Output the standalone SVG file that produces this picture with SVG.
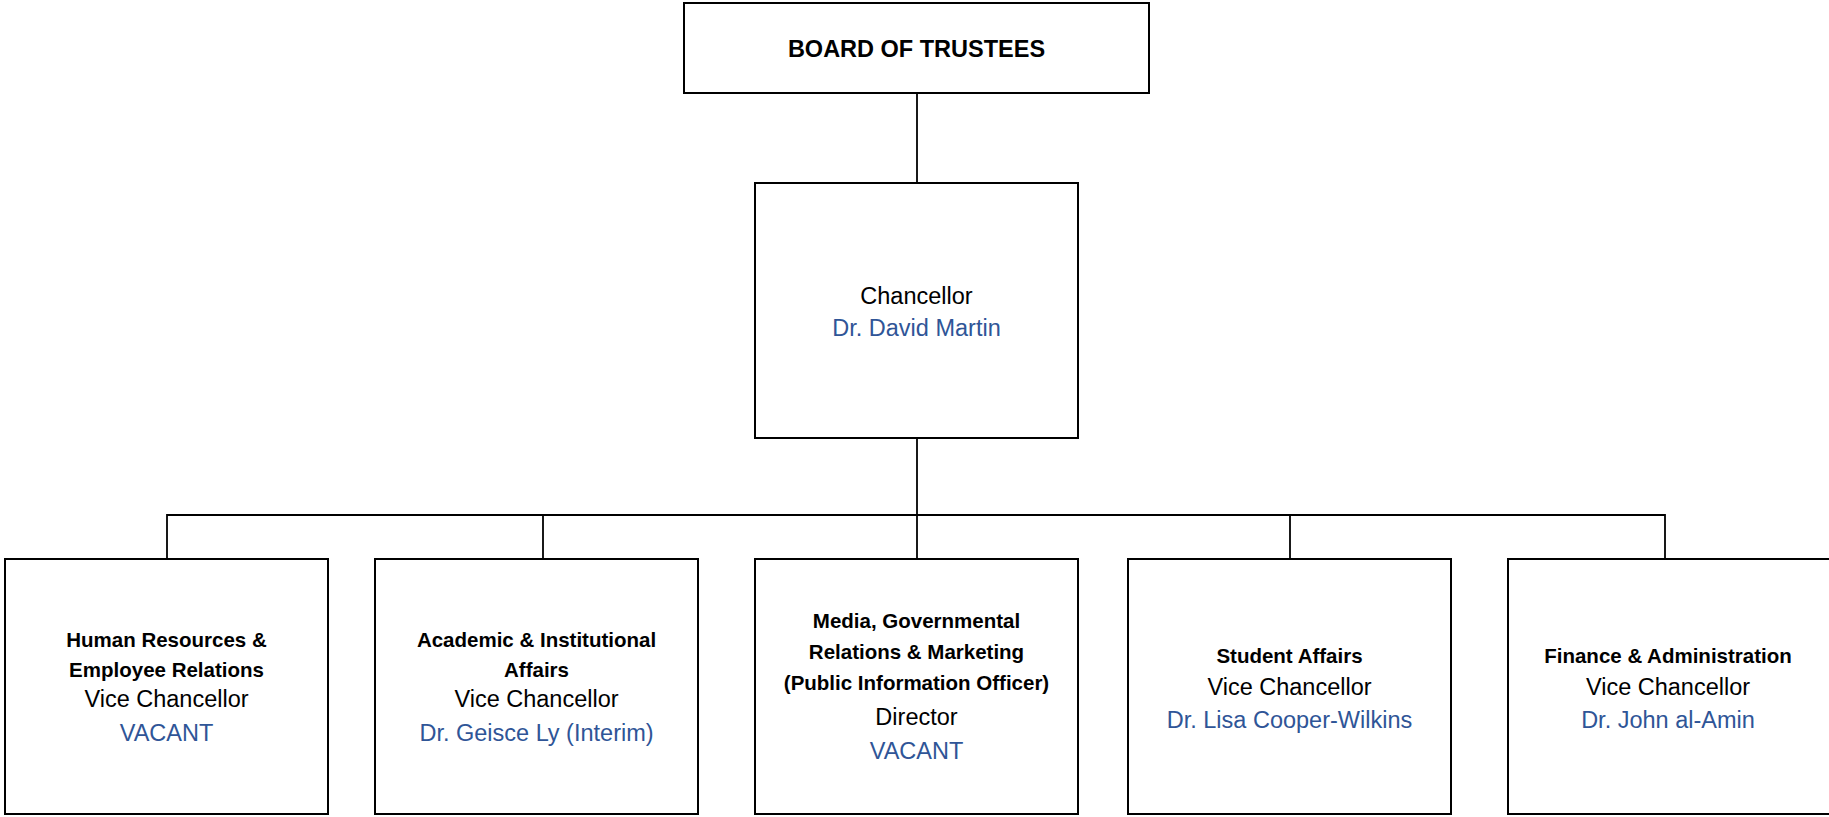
<svg xmlns="http://www.w3.org/2000/svg" width="1829" height="817" viewBox="0 0 1829 817">
<style>
.box{fill:#fff;stroke:#000;stroke-width:2}
.ln{fill:none;stroke:#000;stroke-width:1.8}
text{font-family:"Liberation Sans",Arial,sans-serif;text-anchor:middle}
.b{font-weight:bold;font-size:20.5px;fill:#000}
.r{font-size:23.5px;fill:#000}
.n{font-size:23.5px;fill:#2F5597}
.t{font-weight:bold;font-size:23.5px;fill:#000}
</style>
<rect width="1829" height="817" fill="#fff"/>
<g id="connectors">
<line class="ln" x1="917" y1="93" x2="917" y2="183"/>
<line class="ln" x1="917" y1="438" x2="917" y2="515"/>
<polyline class="ln" points="167,559 167,515 1665,515 1665,559"/>
<line class="ln" x1="543" y1="515" x2="543" y2="559"/>
<line class="ln" x1="917" y1="515" x2="917" y2="559"/>
<line class="ln" x1="1290" y1="515" x2="1290" y2="559"/>
</g>
<g id="board">
<rect class="box" x="684" y="3" width="465" height="90"/>
<text class="t" x="916.5" y="57">BOARD OF TRUSTEES</text>
</g>
<g id="chancellor">
<rect class="box" x="755" y="183" width="323" height="255"/>
<text class="r" x="916.5" y="304">Chancellor</text>
<text class="n" x="916.5" y="336">Dr. David Martin</text>
</g>
<g id="hr">
<rect class="box" x="5" y="559" width="323" height="255"/>
<text class="b" x="166.5" y="647">Human Resources &amp;</text>
<text class="b" x="166.5" y="677">Employee Relations</text>
<text class="r" x="166.5" y="707">Vice Chancellor</text>
<text class="n" x="166.5" y="741">VACANT</text>
</g>
<g id="academic">
<rect class="box" x="375" y="559" width="323" height="255"/>
<text class="b" x="536.5" y="647">Academic &amp; Institutional</text>
<text class="b" x="536.5" y="677">Affairs</text>
<text class="r" x="536.5" y="707">Vice Chancellor</text>
<text class="n" x="536.5" y="741">Dr. Geisce Ly (Interim)</text>
</g>
<g id="media">
<rect class="box" x="755" y="559" width="323" height="255"/>
<text class="b" x="916.5" y="628">Media, Governmental</text>
<text class="b" x="916.5" y="659">Relations &amp; Marketing</text>
<text class="b" x="916.5" y="690">(Public Information Officer)</text>
<text class="r" x="916.5" y="725">Director</text>
<text class="n" x="916.5" y="759">VACANT</text>
</g>
<g id="student">
<rect class="box" x="1128" y="559" width="323" height="255"/>
<text class="b" x="1289.5" y="663">Student Affairs</text>
<text class="r" x="1289.5" y="695">Vice Chancellor</text>
<text class="n" x="1289.5" y="728">Dr. Lisa Cooper-Wilkins</text>
</g>
<g id="finance">
<rect class="box" x="1508" y="559" width="323" height="255"/>
<text class="b" x="1668" y="663">Finance &amp; Administration</text>
<text class="r" x="1668" y="695">Vice Chancellor</text>
<text class="n" x="1668" y="728">Dr. John al-Amin</text>
</g>
</svg>
